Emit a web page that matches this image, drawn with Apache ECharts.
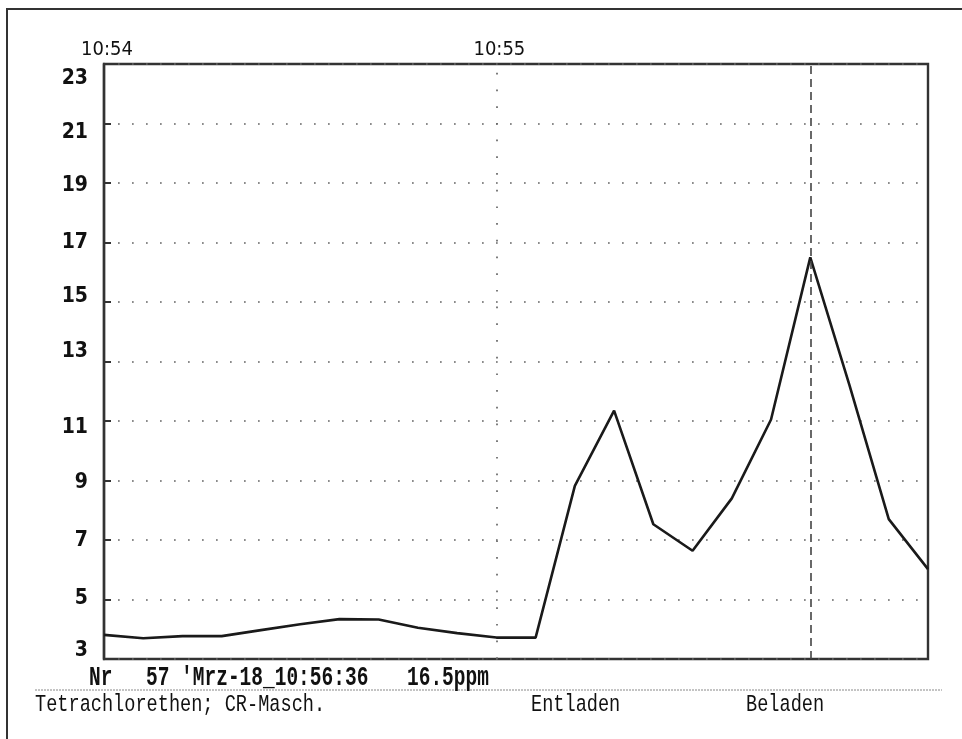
<!DOCTYPE html>
<html>
<head>
<meta charset="utf-8">
<script src="https://cdn.jsdelivr.net/npm/echarts@6/dist/echarts.min.js"></script>
<style>
  html, body { margin: 0; padding: 0; background: #fff; }
  #chart { width: 962px; height: 739px; }
</style>
</head>
<body>
<div id="chart"></div>
<script>
// Sample times in seconds after 10:54:00 (one reading every 6 s)
const sampleSeconds = [0, 6, 12, 18, 24, 30, 36, 42, 48, 54, 60, 66, 72, 78, 84, 90, 96, 102, 108, 114, 120, 126];
// Tetrachlorethen concentration in ppm
const concentration = [3.81, 3.70, 3.77, 3.77, 3.97, 4.17, 4.34, 4.33, 4.05, 3.87, 3.72, 3.72,
                       8.82, 11.35, 7.53, 6.64, 8.40, 11.05, 16.5, 12.2, 7.70, 6.02];
// Time axis labels
const timeTickSeconds = [0, 60];
const timeTickLabels = ['10:54', '10:55'];
// ppm axis labels
const ppmTicks = [3, 5, 7, 9, 11, 13, 15, 17, 19, 21, 23];
// Vertical markers: full minute (dotted) and load event (dashed)
const minuteMarkSeconds = [60];
const loadMarkSeconds = [108];
// Header / footer texts
const recordNo = '57';
const recordStamp = "'Mrz-18_10:56:36";
const substance = 'Tetrachlorethen; CR-Masch.';
const phaseLabels = ['Entladen', 'Beladen'];

const peakText = Math.max(...concentration).toFixed(1) + 'ppm';

// Printer-style label rows: vertical nudge of each ppm label (px)
const labelNudge = { 23: 15, 21: 9, 19: 3, 17: 0, 15: -5, 13: -10, 11: 7, 9: 2, 7: 1, 5: -1, 3: -8 };
const rich = {};
ppmTicks.forEach(v => {
  const d = labelNudge[v] || 0;
  rich['r' + v] = {
    fontFamily: 'DejaVu Sans Condensed, DejaVu Sans',
    fontWeight: 'bold',
    fontSize: 21,
    color: '#111',
    padding: d >= 0 ? [2 * d, 0, 0, 0] : [0, 0, -2 * d, 0]
  };
});

const mono = '"Liberation Mono", "DejaVu Sans Mono", monospace';
const chart = echarts.init(document.getElementById('chart'), null, { renderer: 'canvas' });

chart.setOption({
  animation: false,
  backgroundColor: '#fff',
  grid: {
    left: 104, top: 64, right: 34, bottom: 80,
    show: true, borderColor: '#333', borderWidth: 2.4
  },
  xAxis: {
    type: 'value',
    position: 'top',
    min: 0,
    max: sampleSeconds[sampleSeconds.length - 1],
    axisLine: { show: false },
    axisTick: { show: false },
    splitLine: { show: false },
    axisLabel: {
      customValues: timeTickSeconds,
      formatter: v => timeTickLabels[timeTickSeconds.indexOf(v)] || '',
      fontFamily: '"DejaVu Sans Condensed", "DejaVu Sans Mono", monospace',
      fontSize: 20,
      color: '#111',
      padding: [0, 0, 0, 6],
      margin: 4
    }
  },
  yAxis: {
    type: 'value',
    min: ppmTicks[0],
    max: ppmTicks[ppmTicks.length - 1],
    interval: 2,
    axisLine: { show: true, lineStyle: { color: '#333', width: 2.4 } },
    axisTick: { show: true, inside: true, length: 7, lineStyle: { color: '#333', width: 2 } },
    axisLabel: {
      customValues: ppmTicks,
      formatter: v => '{r' + v + '|' + v + '}',
      rich: rich,
      verticalAlign: 'middle',
      margin: 16
    },
    splitLine: {
      show: true,
      lineStyle: { color: '#666', width: 1.7, type: [1.7, 12.3] }
    }
  },
  series: [{
    type: 'line',
    data: sampleSeconds.map((t, i) => [t, concentration[i]]),
    symbol: 'none',
    lineStyle: { color: '#1a1a1a', width: 2.6 },
    markLine: {
      silent: true,
      symbol: 'none',
      label: { show: false },
      data: [
        ...minuteMarkSeconds.map(s => ({ xAxis: s, lineStyle: { color: '#666', width: 1.7, type: [1.7, 15] } })),
        ...loadMarkSeconds.map(s => ({ xAxis: s, lineStyle: { color: '#444', width: 1.6, type: [8, 5] } }))
      ]
    }
  }],
  graphic: [
    // outer frame (top and left edges)
    { type: 'polyline', shape: { points: [[7, 739], [7, 9], [962, 9]] },
      style: { stroke: '#333', lineWidth: 2, fill: null } },
    // separator under the record line
    { type: 'line', shape: { x1: 35, y1: 690, x2: 942, y2: 690 },
      style: { stroke: '#888', lineWidth: 1, lineDash: [2, 1] } },
    { type: 'text', x: 89, y: 678, scaleY: 1.4,
      style: { text: 'Nr', font: 'bold 19.5px ' + mono, fill: '#111', verticalAlign: 'middle' } },
    { type: 'text', x: 146, y: 678, scaleY: 1.4,
      style: { text: recordNo + ' ' + recordStamp, font: 'bold 19.5px ' + mono, fill: '#111', verticalAlign: 'middle' } },
    { type: 'text', x: 407, y: 678, scaleY: 1.4,
      style: { text: peakText, font: 'bold 19.5px ' + mono, fill: '#111', verticalAlign: 'middle' } },
    { type: 'text', x: 35, y: 705, scaleY: 1.25,
      style: { text: substance, font: '18.6px ' + mono, fill: '#111', verticalAlign: 'middle' } },
    { type: 'text', x: 531, y: 705, scaleY: 1.25,
      style: { text: phaseLabels[0], font: '18.6px ' + mono, fill: '#111', verticalAlign: 'middle' } },
    { type: 'text', x: 746, y: 705, scaleY: 1.25,
      style: { text: phaseLabels[1], font: '18.6px ' + mono, fill: '#111', verticalAlign: 'middle' } }
  ]
});
</script>
</body>
</html>
